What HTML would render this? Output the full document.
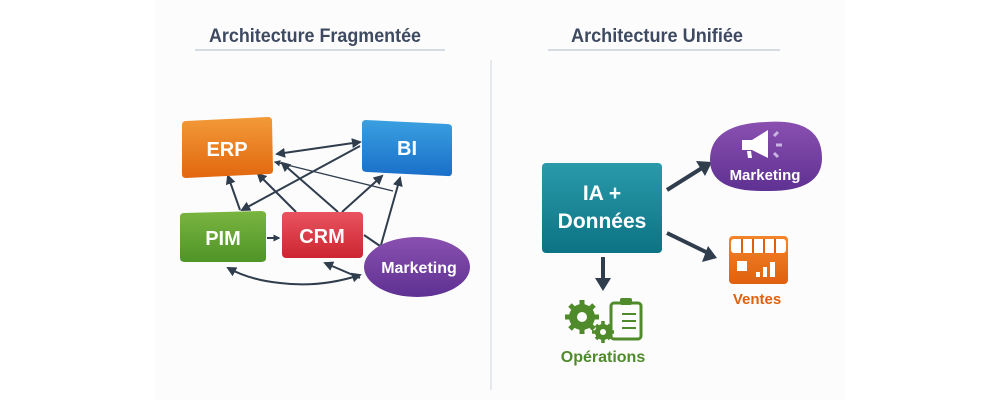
<!DOCTYPE html>
<html><head><meta charset="utf-8"><style>
html,body{margin:0;padding:0;background:#fff;width:1000px;height:400px;overflow:hidden}
svg{display:block}
text{font-family:"Liberation Sans Narrow","Liberation Sans",sans-serif;font-weight:bold}
</style></head><body>
<svg width="1000" height="400" viewBox="0 0 1000 400" xmlns="http://www.w3.org/2000/svg">
<defs>
<linearGradient id="go" x1="0" y1="0" x2="0" y2="1"><stop offset="0" stop-color="#f29a38"/><stop offset="1" stop-color="#e2670f"/></linearGradient>
<linearGradient id="gb" x1="0" y1="0" x2="0" y2="1"><stop offset="0" stop-color="#3aa0e0"/><stop offset="1" stop-color="#1a6fc9"/></linearGradient>
<linearGradient id="gg" x1="0" y1="0" x2="0" y2="1"><stop offset="0" stop-color="#7ab540"/><stop offset="1" stop-color="#4f9428"/></linearGradient>
<linearGradient id="gr" x1="0" y1="0" x2="0" y2="1"><stop offset="0" stop-color="#e95460"/><stop offset="1" stop-color="#cc2530"/></linearGradient>
<linearGradient id="gp" x1="0" y1="0" x2="0" y2="1"><stop offset="0" stop-color="#8a50b0"/><stop offset="1" stop-color="#5e3192"/></linearGradient>
<linearGradient id="gt" x1="0" y1="0" x2="0" y2="1"><stop offset="0" stop-color="#2a9aaa"/><stop offset="1" stop-color="#0b7384"/></linearGradient>
<linearGradient id="gv" x1="0" y1="0" x2="0" y2="1"><stop offset="0" stop-color="#f3852a"/><stop offset="1" stop-color="#e0600e"/></linearGradient>
<marker id="a" viewBox="0 0 10 10" refX="8" refY="5" markerWidth="5" markerHeight="5" orient="auto-start-reverse"><path d="M0,0 L10,5 L0,10 z" fill="#2f3d4d"/></marker>
<marker id="b" viewBox="0 0 10 10" refX="8" refY="5" markerWidth="3.5" markerHeight="3.5" orient="auto"><path d="M0,0 L10,5 L0,10 z" fill="#2f3d4d"/></marker>
</defs>
<rect x="155" y="0" width="690" height="400" fill="#fcfcfd"/>
<text x="315" y="42" text-anchor="middle" font-size="19" fill="#3e4a61" textLength="212" lengthAdjust="spacingAndGlyphs">Architecture Fragmentée</text>
<text x="657" y="42" text-anchor="middle" font-size="19" fill="#3e4a61" textLength="172" lengthAdjust="spacingAndGlyphs">Architecture Unifiée</text>
<line x1="195" y1="50" x2="445" y2="50" stroke="#d5dbe2" stroke-width="2"/>
<line x1="548" y1="50" x2="780" y2="50" stroke="#d5dbe2" stroke-width="2"/>
<line x1="491" y1="60" x2="491" y2="390" stroke="#dde2e7" stroke-width="1.5"/>
<g stroke="#2f3d4d" stroke-width="2" fill="none">
<line x1="360" y1="142" x2="277" y2="154" marker-end="url(#a)" marker-start="url(#a)"/>
<line x1="360" y1="146" x2="242" y2="210" marker-end="url(#a)"/>
<line x1="393" y1="191" x2="275" y2="162" stroke-width="1.3" marker-end="url(#a)"/>
<line x1="240" y1="210" x2="228" y2="176" marker-end="url(#a)"/>
<line x1="296" y1="212" x2="258" y2="174" marker-end="url(#a)"/>
<line x1="338" y1="212" x2="282" y2="163" marker-end="url(#a)"/>
<line x1="342" y1="212" x2="382" y2="176" marker-end="url(#a)"/>
<line x1="381" y1="245" x2="400" y2="178" marker-end="url(#a)"/>
<line x1="267" y1="238" x2="279" y2="238" marker-end="url(#b)"/>
<path d="M364 235 L380 246" />
<path d="M228 268 Q250 280 280 283 Q320 288 360 275" marker-start="url(#a)" marker-end="url(#a)"/>
<line x1="325" y1="263" x2="360" y2="278" marker-start="url(#a)"/>
</g>
<path d="M182 125 Q182 121 186 121 L268 117 Q272 117 272 121 L273 170 Q273 174 269 174 L186 178 Q182 178 182 174 Z" fill="url(#go)"/>
<text x="227" y="156" text-anchor="middle" font-size="20" fill="#fff">ERP</text>
<path d="M366 120 L447 124 Q452 124 452 128 L452 172 Q452 177 447 176 L367 172 Q362 172 362 168 L362 124 Q362 120 366 120 Z" fill="url(#gb)"/>
<text x="407" y="155" text-anchor="middle" font-size="20" fill="#fff">BI</text>
<path d="M184 213 L261 211 Q266 211 266 215 L266 258 Q266 262 261 262 L185 262 Q180 262 180 258 L180 217 Q180 213 184 213 Z" fill="url(#gg)"/>
<text x="223" y="245" text-anchor="middle" font-size="20" fill="#fff">PIM</text>
<rect x="282" y="212" width="81" height="46" rx="4" fill="url(#gr)"/>
<text x="322" y="243" text-anchor="middle" font-size="20" fill="#fff">CRM</text>
<ellipse cx="417" cy="267" rx="53" ry="30" fill="url(#gp)"/>
<text x="419" y="273" text-anchor="middle" font-size="16" fill="#fff">Marketing</text>
<rect x="542" y="163" width="120" height="90" rx="4" fill="url(#gt)"/>
<text x="602" y="200" text-anchor="middle" font-size="21" fill="#fff">IA +</text>
<text x="602" y="228" text-anchor="middle" font-size="21" fill="#fff">Données</text>
<g stroke="#2f3d4d" stroke-width="4" fill="none">
<line x1="667" y1="190" x2="702" y2="168"/>
<line x1="667" y1="233" x2="708" y2="253"/>
<line x1="603" y1="257" x2="603" y2="280"/>
</g>
<path d="M696 161 L712 162 L705 176 Z" fill="#2f3d4d"/>
<path d="M702 262 L717 258 L708 246 Z" fill="#2f3d4d"/>
<path d="M595 278 L611 278 L603 291 Z" fill="#2f3d4d"/>
<path d="M766 122 Q822 118 822 158 Q822 192 766 191 Q710 192 710 160 Q710 124 766 122 Z" fill="url(#gp)"/>
<path d="M742 140 L752 140 L768 130 L768 158 L752 150 L742 150 Z" fill="#fff"/>
<path d="M747 151 L751 151 L752 158 L748 158 Z" fill="#fff"/>
<path d="M774 136 L778 132 M776 145 L782 145 M774 153 L778 157" stroke="#c8b4e0" stroke-width="3"/>
<text x="765" y="180" text-anchor="middle" font-size="15" fill="#fff">Marketing</text>
<rect x="729" y="236" width="59" height="48" rx="4" fill="url(#gv)"/>
<rect x="731" y="239" width="55" height="14" rx="3" fill="#fff"/>
<g stroke="#e0600e" stroke-width="2"><line x1="742" y1="239" x2="742" y2="253"/><line x1="753" y1="239" x2="753" y2="253"/><line x1="764" y1="239" x2="764" y2="253"/><line x1="775" y1="239" x2="775" y2="253"/></g>
<rect x="737" y="261" width="10" height="10" fill="#fff"/>
<rect x="756" y="272" width="4" height="5" fill="#fff"/>
<rect x="763" y="267" width="4" height="10" fill="#fff"/>
<rect x="770" y="262" width="5" height="15" fill="#fff"/>
<text x="757" y="304" text-anchor="middle" font-size="15" fill="#e0600e">Ventes</text>
<g fill="#4f8a2b">
<circle cx="582" cy="317" r="13"/>
<g stroke="#4f8a2b" stroke-width="5"><line x1="582" y1="300" x2="582" y2="334"/><line x1="565" y1="317" x2="599" y2="317"/><line x1="570" y1="305" x2="594" y2="329"/><line x1="594" y1="305" x2="570" y2="329"/></g>
<circle cx="582" cy="317" r="5" fill="#fcfcfd"/>
<circle cx="603" cy="332" r="8"/>
<g stroke="#4f8a2b" stroke-width="3.5"><line x1="603" y1="321" x2="603" y2="343"/><line x1="592" y1="332" x2="614" y2="332"/><line x1="596" y1="325" x2="610" y2="339"/><line x1="610" y1="325" x2="596" y2="339"/></g>
<circle cx="603" cy="332" r="3" fill="#fcfcfd"/>
</g>
<rect x="611" y="303" width="30" height="36" rx="3" fill="none" stroke="#4f8a2b" stroke-width="3"/>
<rect x="620" y="298" width="12" height="7" rx="2" fill="#4f8a2b"/>
<g stroke="#4f8a2b" stroke-width="2"><line x1="622" y1="314" x2="636" y2="314"/><line x1="622" y1="321" x2="636" y2="321"/><line x1="622" y1="328" x2="636" y2="328"/></g>
<text x="603" y="362" text-anchor="middle" font-size="16" fill="#4f8a2b">Opérations</text>
</svg>
</body></html>
